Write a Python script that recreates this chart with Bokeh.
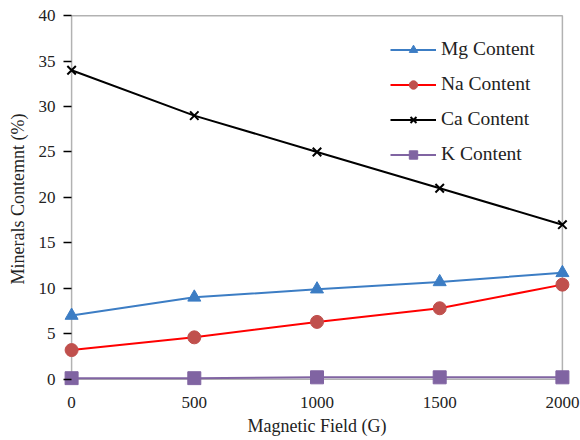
from bokeh.plotting import figure
from bokeh.models import Range1d, Legend, LegendItem, FixedTicker, BoxAnnotation
from bokeh.embed import file_html
from bokeh.resources import INLINE

field = [0, 500, 1000, 1500, 2000]
mg = [7.0, 9.0, 9.9, 10.7, 11.7]
na = [3.2, 4.6, 6.3, 7.8, 10.4]
ca = [34.0, 29.0, 25.0, 21.0, 17.0]
k = [0.1, 0.1, 0.2, 0.2, 0.2]
x_ticks = [0, 500, 1000, 1500, 2000]
y_ticks = [0, 5, 10, 15, 20, 25, 30, 35, 40]

FONT = "Liberation Serif"
xmin, xmax = x_ticks[0], x_ticks[-1]
ymin, ymax = y_ticks[0], y_ticks[-1]

p = figure(frame_width=507, frame_height=373, output_backend="svg", toolbar_location=None,
           x_range=Range1d(xmin - 33, xmax + 33), y_range=Range1d(ymin - 0.7, ymax + 0.35),
           min_border_left=63, min_border_right=10, min_border_top=12, min_border_bottom=55)
p.grid.visible = False
p.outline_line_color = None
p.background_fill_color = "white"

# plot-area box (0..2000 x 0..40)
p.add_layout(BoxAnnotation(left=xmin, right=xmax, bottom=ymin, top=ymax,
                           fill_alpha=0, line_color="black", line_width=1.5, level="underlay"))

for ax in (p.xaxis[0], p.yaxis[0]):
    ax.axis_line_color = None
    ax.major_tick_line_color = "black"
    ax.major_tick_line_width = 1.5
    ax.minor_tick_line_color = None
    ax.major_label_text_font = FONT
    ax.major_label_text_font_size = "17px"
    ax.major_label_text_color = "#222222"
    ax.axis_label_text_font = FONT
    ax.axis_label_text_font_size = "18px"
    ax.axis_label_text_font_style = "normal"
    ax.axis_label_text_color = "#222222"

p.xaxis.ticker = FixedTicker(ticks=x_ticks)
p.yaxis.ticker = FixedTicker(ticks=y_ticks)
p.xaxis.major_tick_out = 0
p.xaxis.major_tick_in = 0
p.yaxis.major_tick_out = 0
p.yaxis.major_tick_in = 8
p.xaxis.axis_label = "Magnetic Field (G)"
p.yaxis.axis_label = "Minerals Contemnt (%)"
p.xaxis.major_label_standoff = 11
p.yaxis.major_label_standoff = 8
p.xaxis.axis_label_standoff = 5
p.yaxis.axis_label_standoff = 8

blue = "#3C7DC4"
red_line = "#FF0000"
red_mk = "#C0504D"
purple = "#8064A2"

l1 = p.line(field, mg, line_color=blue, line_width=2)
m1 = p.scatter(field, mg, marker="triangle", size=13, fill_color=blue, line_color=blue)
l2 = p.line(field, na, line_color=red_line, line_width=2)
m2 = p.scatter(field, na, marker="circle", size=13, fill_color=red_mk, line_color=red_mk)
l3 = p.line(field, ca, line_color="black", line_width=2)
m3 = p.scatter(field, ca, marker="x", size=12, line_color="black", line_width=2)
l4 = p.line(field, k, line_color=purple, line_width=2)
m4 = p.scatter(field, k, marker="square", size=13, fill_color=purple, line_color=purple)

legend = Legend(items=[
    LegendItem(label="Mg Content", renderers=[l1, m1]),
    LegendItem(label="Na Content", renderers=[l2, m2]),
    LegendItem(label="Ca Content", renderers=[l3, m3]),
    LegendItem(label="K Content", renderers=[l4, m4]),
], location=(327, 220))
legend.border_line_color = None
legend.background_fill_alpha = 0
legend.label_text_font = FONT
legend.label_text_font_size = "19.5px"
legend.label_text_color = "#222222"
legend.glyph_width = 46
legend.glyph_height = 21
legend.spacing = 13
legend.label_standoff = 5
legend.margin = 0
legend.padding = 8
p.add_layout(legend)

open("out.html", "w").write(file_html(p, INLINE))
